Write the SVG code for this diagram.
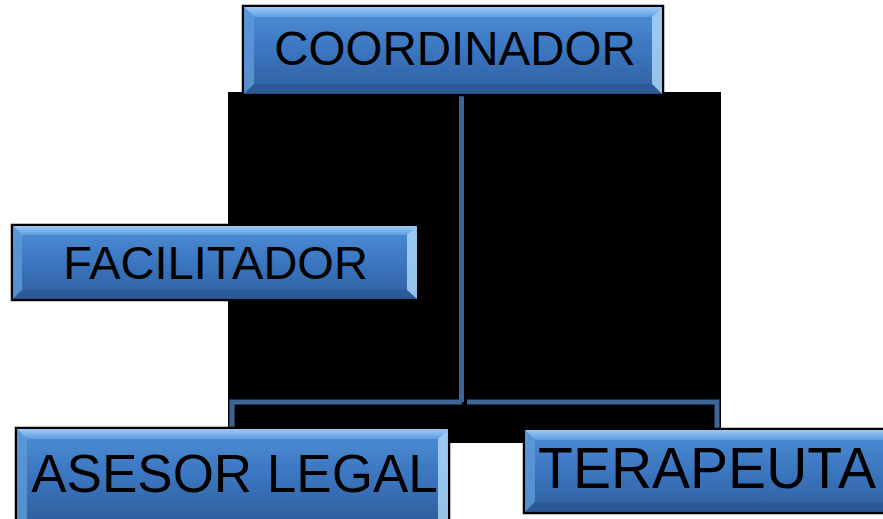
<svg xmlns="http://www.w3.org/2000/svg" width="883" height="519" viewBox="0 0 883 519">
<defs>
<linearGradient id="g" x1="0" y1="0" x2="0" y2="1">
<stop offset="0" stop-color="#4f8fd6"/>
<stop offset="0.5" stop-color="#3b76c0"/>
<stop offset="1" stop-color="#2f5f9c"/>
</linearGradient>
<linearGradient id="top" x1="0" y1="0" x2="0" y2="1">
<stop offset="0" stop-color="#9ccaf5"/>
<stop offset="1" stop-color="#5e9de0"/>
</linearGradient>
<style>
.box{stroke:#000;stroke-width:2.5;fill:url(#g)}
.bt{fill:url(#top)}
.bl{fill:#5e9ad8;opacity:0.8}
.br{fill:#a9d3f5;opacity:0.85}
.bb{fill:#2a5590;opacity:0.6}
.t{font-family:"Liberation Sans",Arial,sans-serif;fill:#000;text-anchor:middle}
.c{fill:none;stroke:#3d6595;stroke-width:5}
</style>
</defs>
<rect x="0" y="0" width="883" height="519" fill="#fff"/>
<rect x="228" y="92" width="493" height="351" fill="#000"/>
<g id="connectors">
<line class="c" x1="461.5" y1="96" x2="461.5" y2="402"/>
<polyline class="c" points="232,430 232,402 462,402"/>
<polyline class="c" points="467,402 717,402 717,430"/>
</g>
<g id="coordinador">
<rect class="box" x="243" y="6" width="420" height="89"/>
<polygon class="bt" points="244,7 662,7 652,17 254,17"/>
<polygon class="bl" points="244,7 254,17 254,84 244,94"/>
<polygon class="br" points="662,7 662,94 652,84 652,17"/>
<polygon class="bb" points="244,94 254,84 652,84 662,94"/>
<text class="t" x="455" y="65" font-size="47.5">COORDINADOR</text>
</g>
<g id="facilitador">
<rect class="box" x="12" y="225" width="406" height="75"/>
<polygon class="bt" points="13,226 417,226 407,235 22,235"/>
<polygon class="bl" points="13,226 22,235 22,290 13,299"/>
<polygon class="br" points="417,226 417,299 407,290 407,235"/>
<polygon class="bb" points="13,299 22,290 407,290 417,299"/>
<text class="t" x="215.5" y="279" font-size="47">FACILITADOR</text>
</g>
<g id="asesor">
<rect class="box" x="16" y="428" width="433" height="95"/>
<polygon class="bt" points="17,429 448,429 438,439 27,439"/>
<polygon class="bl" points="17,429 27,439 27,519 17,519"/>
<polygon class="br" points="448,429 448,519 438,519 438,439"/>
<text class="t" x="234.5" y="492" font-size="53">ASESOR LEGAL</text>
</g>
<g id="terapeuta">
<rect class="box" x="524" y="429" width="365" height="84"/>
<polygon class="bt" points="525,430 883,430 883,440 535,440"/>
<polygon class="bl" points="525,430 535,440 535,502 525,512"/>
<polygon class="bb" points="525,512 535,502 883,502 883,512"/>
<text class="t" x="707" y="488" font-size="57">TERAPEUTA</text>
</g>
</svg>
